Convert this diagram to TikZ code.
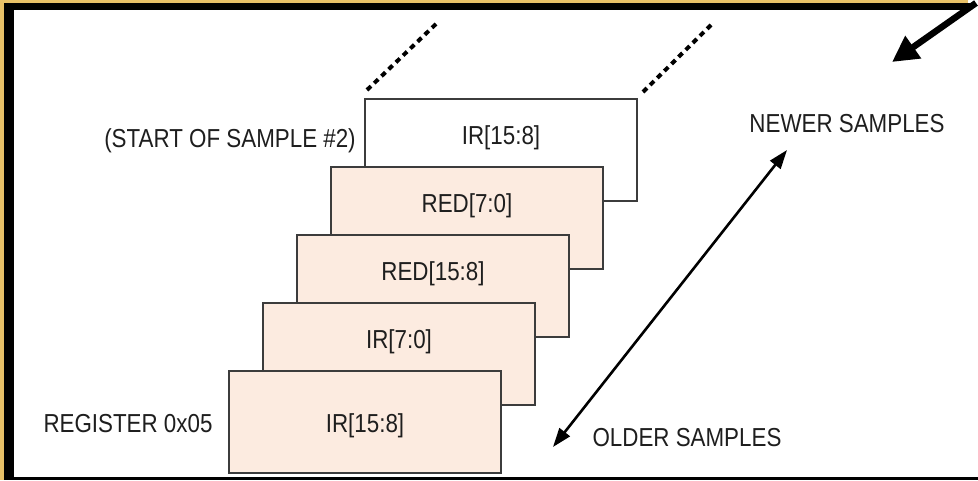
\documentclass[tikz,border=0pt]{standalone}
\usepackage{fontspec}
\setmainfont[FakeStretch=0.86]{Liberation Sans}
\usetikzlibrary{arrows.meta}
\definecolor{framegold}{RGB}{232,193,104}
\definecolor{regfill}{RGB}{252,235,224}
\definecolor{regedge}{RGB}{60,60,60}
\definecolor{ink}{RGB}{30,30,30}
\begin{document}
\begin{tikzpicture}[x=1pt,y=-1pt,
  font=\fontsize{26}{30}\selectfont,
  regbox/.style={draw=regedge, line width=1.3pt, fill=regfill,
    minimum width=272pt, minimum height=102pt, anchor=north west,
    inner sep=0pt, outer sep=0pt},
  topbox/.style={regbox, fill=white},
  lbl/.style={text=ink, anchor=base, inner sep=0pt},
  fifodash/.style={line width=4pt, dash pattern=on 5.5pt off 4.5pt},
  span/.style={line width=2.6pt, {Triangle[length=19pt,width=13pt]}-{Triangle[length=19pt,width=13pt]}},
  pointer/.style={line width=6.5pt, -{Triangle[length=26pt,width=26pt]}}]
\useasboundingbox (0,0) rectangle (978,480);
% page and frame
\fill[white] (0,0) rectangle (978,480);
\fill[framegold] (0,0) rectangle (968,480);
\fill[black] (4,3) rectangle (972,480);
\fill[black] (4,470) rectangle (978,480);
\fill[white] (14,10) rectangle (978,477);

% register stack, back to front
\node[topbox] (b5) at (365,99) {};
\node[regbox] (b4) at (331,167) {};
\node[regbox] (b3) at (297,235) {};
\node[regbox] (b2) at (263,303) {};
\node[regbox] (b1) at (229,371) {};

\node[lbl] (t5) at (501,144) {IR[15:8]};
\node[lbl] (t4) at (467,212) {RED[7:0]};
\node[lbl] (t3) at (433,280) {RED[15:8]};
\node[lbl] (t2) at (399,348) {IR[7:0]};
\node[lbl] (t1) at (365,432) {IR[15:8]};

% continuation of the stack
\coordinate (dl0) at (367,90);
\coordinate (dl1) at (437,23);
\coordinate (dr0) at (643,92);
\coordinate (dr1) at (712,24);
\draw[fifodash] (dl0) -- (dl1);
\draw[fifodash] (dr0) -- (dr1);

% side labels
\node[lbl] (start) at (230,147) {(START OF SAMPLE \#2)};
\node[lbl] (reg) at (128,432) {REGISTER 0x05};
\node[lbl] (newer) at (847,132) {NEWER SAMPLES};
\node[lbl] (older) at (687,446) {OLDER SAMPLES};

% age axis
\coordinate (oldend) at (553,447);
\coordinate (newend) at (787,150);
\draw[span] (oldend) -- (newend);

% pointer from the corner
\coordinate (ptail) at (976,3);
\coordinate (ptip) at (892,62);
\draw[pointer] (ptail) -- (ptip);
\end{tikzpicture}
\end{document}
